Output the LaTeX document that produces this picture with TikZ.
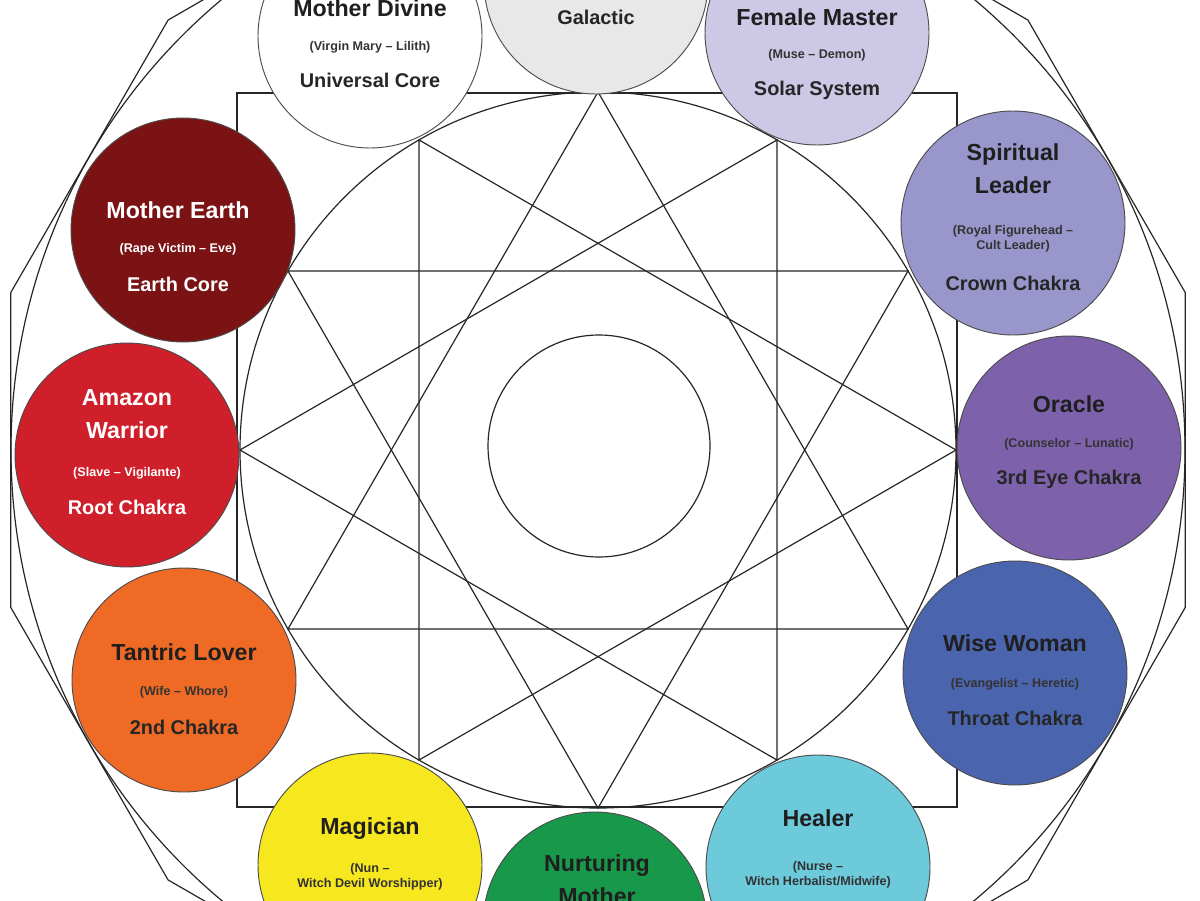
\documentclass[tikz,border=0pt]{standalone}
\usepackage{fontspec}
\setmainfont{Liberation Sans}
\usetikzlibrary{calc}
\begin{document}
\begin{tikzpicture}[x=0.0265cm,y=-0.0265cm,
  geo/.style={draw=black!85,line width=0.9pt},
  disc/.style={circle,draw=black!70,line width=0.7pt,minimum size={224*0.0265cm},inner sep=0pt},
  ttl/.style={font=\bfseries\fontsize{17.5}{25}\selectfont,align=center,text=black!88},
  sbt/.style={font=\bfseries\fontsize{9.5}{11}\selectfont,align=center,text=black!80},
  bot/.style={font=\bfseries\fontsize{15}{17}\selectfont,align=center,text=black!85}]
\definecolor{cGal}{HTML}{E8E8E8}
\definecolor{cFem}{HTML}{CDC8E6}
\definecolor{cSpi}{HTML}{9896CB}
\definecolor{cOra}{HTML}{7D62AB}
\definecolor{cWis}{HTML}{4A64AE}
\definecolor{cHea}{HTML}{6CCADB}
\definecolor{cNur}{HTML}{17984A}
\definecolor{cMag}{HTML}{F6E71F}
\definecolor{cTan}{HTML}{EF6A24}
\definecolor{cAma}{HTML}{CF1F2B}
\definecolor{cEar}{HTML}{7B1315}
\useasboundingbox (0,0) rectangle (1200,900);
\clip (0,0) rectangle (1200,900);
\fill[white] (0,0) rectangle (1200,900);
\coordinate (C) at (598,450);
% outer dodecagon and circle
\foreach \k in {0,...,11}{\coordinate (q\k) at ($(C)+({-15-30*\k}:608)$);}
\draw[geo] (q0) -- (q1) -- (q2) -- (q3) -- (q4) -- (q5) -- (q6) -- (q7) -- (q8) -- (q9) -- (q10) -- (q11) -- cycle;
\draw[geo] (C) circle[radius=587];
% square, circles
\draw[geo] (237,93) rectangle (957,807);
\draw[geo] (C) circle[radius=358];
\draw[geo] (599,446) circle[radius=111];
\foreach \k in {0,...,11}{\coordinate (p\k) at ($(C)+({-30*\k}:358)$);}
\foreach \a/\b/\c in {0/4/8,1/5/9,2/6/10,3/7/11}{\draw[geo] (p\a) -- (p\b) -- (p\c) -- cycle;}
% discs
\node[disc,fill=white] (div) at (370,36) {};
\node[disc,fill=cGal] (gal) at (596,-18) {};
\node[disc,fill=cFem] (fem) at (817,33) {};
\node[disc,fill=cSpi] (spi) at (1013,223) {};
\node[disc,fill=cOra] (ora) at (1069,448) {};
\node[disc,fill=cWis] (wis) at (1015,673) {};
\node[disc,fill=cHea] (hea) at (818,867) {};
\node[disc,fill=cNur] (nur) at (595,924) {};
\node[disc,fill=cMag] (mag) at (370,865) {};
\node[disc,fill=cTan] (tan) at (184,680) {};
\node[disc,fill=cAma] (ama) at (127,455) {};
\node[disc,fill=cEar] (ear) at (183,230) {};
% texts
\node[ttl] (t1) at (370,8) {Mother Divine};
\node[sbt] (s1) at (370,47) {(Virgin Mary – Lilith)};
\node[bot] (b1) at (370,80) {Universal Core};
\node[bot] (t2) at (596,17) {Galactic};
\node[ttl] (t3) at (817,17) {Female Master};
\node[sbt] (s3) at (817,55) {(Muse – Demon)};
\node[bot] (b3) at (817,90) {Solar System};
\node[ttl] (t4) at (1013,169) {Spiritual\\Leader};
\node[sbt] (s4) at (1013,239) {(Royal Figurehead –\\Cult Leader)};
\node[bot] (b4) at (1013,283) {Crown Chakra};
\node[ttl] (t5) at (1069,404) {Oracle};
\node[sbt] (s5) at (1069,444) {(Counselor – Lunatic)};
\node[bot] (b5) at (1069,479) {3rd Eye Chakra};
\node[ttl] (t6) at (1015,643) {Wise Woman};
\node[sbt] (s6) at (1015,684) {(Evangelist – Heretic)};
\node[bot] (b6) at (1015,718) {Throat Chakra};
\node[ttl] (t7) at (818,818) {Healer};
\node[sbt] (s7) at (818,875) {(Nurse –\\Witch Herbalist/Midwife)};
\node[ttl] (t8) at (597,880) {Nurturing\\Mother};
\node[ttl] (t9) at (370,829) {Magician};
\node[sbt] (s9) at (370,877) {(Nun –\\Witch Devil Worshipper)};
\node[ttl] (t10) at (184,652) {Tantric Lover};
\node[sbt] (s10) at (184,692) {(Wife – Whore)};
\node[bot] (b10) at (184,727) {2nd Chakra};
\node[ttl,text=white] (t11) at (127,414) {Amazon\\Warrior};
\node[sbt,text=white] (s11) at (127,473) {(Slave – Vigilante)};
\node[bot,text=white] (b11) at (127,507) {Root Chakra};
\node[ttl,text=white] (t12) at (178,210) {Mother Earth};
\node[sbt,text=white] (s12) at (178,249) {(Rape Victim – Eve)};
\node[bot,text=white] (b12) at (178,284) {Earth Core};
\end{tikzpicture}
\end{document}
